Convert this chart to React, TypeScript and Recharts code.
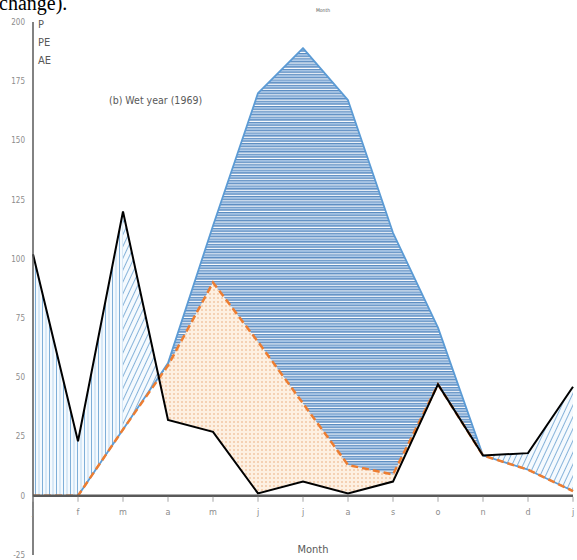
import React from 'react';
import { ComposedChart, Area, Line, XAxis, YAxis, ReferenceLine } from 'recharts';

const MONTHS = ['j', 'f', 'm', 'a', 'm', 'j', 'j', 'a', 's', 'o', 'n', 'd', 'j'];
const P = [102, 23, 120, 32, 27, 1, 6, 1, 6, 47, 17, 18, 46];
const PE = [0, 0, 28, 56, 114, 170, 189, 167, 111, 71, 17, 11, 2];
const AE = [0, 0, 28, 55, 90, 65, 39, 13, 9, 47, 17, 11, 2];
const Y_TICKS = [-25, 0, 25, 50, 75, 100, 125, 150, 175, 200];
const SERIES_LABELS = ['P', 'PE', 'AE'];
const SUBTITLE = '(b) Wet year (1969)';
const X_TITLE = 'Month';
const TOP_TITLE = 'Month';
const PAGE_TEXT = 'change).';

const W = 577;
const H = 560;
const TOP = 22;
const BOTTOM = 4;
const X_AXIS_H = 1;
const Y_MIN = -25;
const Y_MAX = 200;
const PLOT_H = H - TOP - BOTTOM - X_AXIS_H;
const Y0 = TOP + (PLOT_H * (Y_MAX - 0)) / (Y_MAX - Y_MIN);
const NARROW = "'Liberation Sans Narrow', 'DejaVu Sans Condensed', 'Liberation Sans', sans-serif";

type Row = { x: number; P: number; PE: number; AE: number };

function buildRows(): Row[] {
  const rows: Row[] = [];
  for (let i = 0; i < MONTHS.length; i++) {
    rows.push({ x: i, P: P[i], PE: PE[i], AE: AE[i] });
    if (i < MONTHS.length - 1) {
      const d0 = P[i] - AE[i];
      const d1 = P[i + 1] - AE[i + 1];
      if (d0 * d1 < 0) {
        const t = d0 / (d0 - d1);
        const lerp = (a: number[]) => a[i] + (a[i + 1] - a[i]) * t;
        rows.push({ x: i + t, P: lerp(P), PE: lerp(PE), AE: lerp(AE) });
      }
    }
  }
  return rows;
}

const rows = buildRows();

const MonthTick = (props: any) => {
  const { x, payload } = props;
  return (
    <g>
      <line x1={x} x2={x} y1={Y0 + 1} y2={Y0 + 6} stroke="#a6a6a6" strokeWidth={1} />
      <text x={x} y={Y0 + 19} textAnchor="middle" fontSize={9} fill="#8c8c8c" fontFamily={NARROW}>
        {MONTHS[payload.value]}
      </text>
    </g>
  );
};

export default function App() {
  return (
    <div style={{ position: 'absolute', left: 0, top: 0, width: W, height: H, background: '#fff', overflow: 'hidden' }}>
      <ComposedChart width={W} height={H} data={rows} margin={{ top: TOP, right: 4, bottom: BOTTOM, left: 0 }}>
        <defs>
          <pattern id="stripes" patternUnits="userSpaceOnUse" width={8} height={5.3}>
            <rect x={0} y={0} width={8} height={5.3} fill="#ffffff" />
            <rect x={0} y={0} width={8} height={1.4} fill="#5588bf" />
            <rect x={0} y={1.4} width={8} height={1.3} fill="#aecbea" />
            <rect x={0} y={2.7} width={8} height={1.4} fill="#5588bf" />
          </pattern>
          <pattern id="dots" patternUnits="userSpaceOnUse" width={4} height={4}>
            <rect x={0} y={0} width={4} height={4} fill="#fdf0e2" />
            <rect x={1.4} y={1.4} width={1.2} height={1.2} fill="#e59a62" />
          </pattern>
          <pattern id="vhatch" patternUnits="userSpaceOnUse" width={7} height={7}>
            <rect x={0} y={0} width={7} height={7} fill="#f5fafe" />
            <rect x={0} y={0} width={1} height={7} fill="#7fafd8" />
            <rect x={3.5} y={0} width={1} height={7} fill="#bcd8f0" />
          </pattern>
          <pattern id="dhatch" patternUnits="userSpaceOnUse" width={5} height={5} patternTransform="rotate(25)">
            <rect x={0} y={0} width={5} height={5} fill="#f5fafe" />
            <rect x={0} y={0} width={1} height={5} fill="#86b3da" />
          </pattern>
        </defs>
        <XAxis
          dataKey="x"
          type="number"
          domain={[0, 12]}
          ticks={MONTHS.map((_, i) => i)}
          interval={0}
          height={X_AXIS_H}
          axisLine={false}
          tickLine={false}
          tick={(p: any) => <MonthTick {...p} />}
        />
        <YAxis
          type="number"
          domain={[Y_MIN, Y_MAX]}
          ticks={Y_TICKS}
          interval={0}
          width={33}
          tickLine={false}
          axisLine={{ stroke: '#595959', strokeWidth: 1.5 }}
          tick={{ fontSize: 8, fill: '#8c8c8c', fontFamily: NARROW }}
        />
        <Area type="linear" dataKey="PE" baseValue={0} fill="url(#stripes)" fillOpacity={1} stroke="none" isAnimationActive={false} />
        <Area type="linear" dataKey="AE" baseValue={0} fill="url(#dots)" fillOpacity={1} stroke="none" isAnimationActive={false} />
        <Area type="linear" dataKey={(d: Row) => Math.min(d.P, d.AE)} baseValue={0} fill="#ffffff" fillOpacity={1} stroke="none" isAnimationActive={false} />
        <Area
          type="linear"
          dataKey={(d: Row) => (d.x <= 2 ? [d.AE, Math.max(d.P, d.AE)] : null)}
          fill="url(#vhatch)"
          fillOpacity={1}
          stroke="none"
          isAnimationActive={false}
        />
        <Area
          type="linear"
          dataKey={(d: Row) => (d.x >= 2 ? [d.AE, Math.max(d.P, d.AE)] : null)}
          fill="url(#dhatch)"
          fillOpacity={1}
          stroke="none"
          isAnimationActive={false}
        />
        <Line type="linear" dataKey="PE" stroke="#5b9bd5" strokeWidth={1.8} strokeLinejoin="round" dot={false} isAnimationActive={false} />
        <Line type="linear" dataKey="AE" stroke="#ed7d31" strokeWidth={2.5} strokeDasharray="7 4" dot={false} isAnimationActive={false} />
        <Line type="linear" dataKey="P" stroke="#000000" strokeWidth={2} dot={false} isAnimationActive={false} />
        <ReferenceLine y={0} stroke="#595959" strokeWidth={2.5} />
      </ComposedChart>
      <svg width={W} height={H} style={{ position: 'absolute', left: 0, top: 0, pointerEvents: 'none' }}>
        <text x={-1} y={10} fontSize={20} fontFamily="'Liberation Serif', serif" fill="#000">{PAGE_TEXT}</text>
        <text x={323} y={12} fontSize={5} textAnchor="middle" fill="#555" fontFamily={NARROW}>{TOP_TITLE}</text>
        {SERIES_LABELS.map((s, i) => (
          <text key={s} x={38} y={28 + i * 18} fontSize={11} fill="#595959" fontFamily={NARROW}>{s}</text>
        ))}
        <text x={109} y={104} fontSize={10.5} fill="#595959" fontFamily={NARROW}>{SUBTITLE}</text>
        <text x={313} y={553} fontSize={11} textAnchor="middle" fill="#595959" fontFamily={NARROW}>{X_TITLE}</text>
      </svg>
    </div>
  );
}
